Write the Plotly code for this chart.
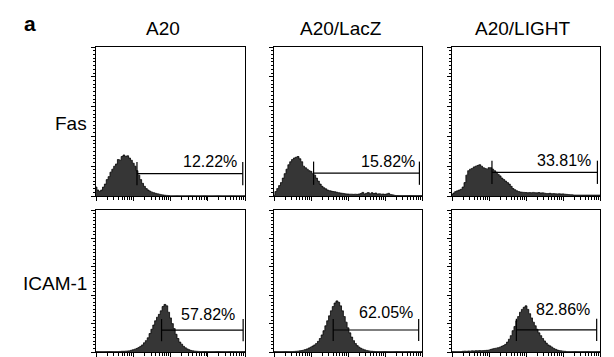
import plotly.graph_objects as go

# ---------------- data ----------------
col_titles = ["A20", "A20/LacZ", "A20/LIGHT"]
row_titles = ["Fas", "ICAM-1"]
bin_step = 0.05  # histogram bin width in log10 decades (fluorescence 10^0 .. 10^4)

fas_a20 = [6, 4, 3, 4, 6, 8, 11, 13, 16, 18, 20, 21.5, 24.5, 24, 26.5, 27.5, 26.5, 27, 25.5, 24,
           22, 20, 17, 14, 11, 8.5, 6.5, 5, 4, 3.2, 2.6, 2.2, 1.8, 1.5, 1.2, 0.9, 0.7, 0.5, 0.4, 0.3,
           0.2, 0.2, 0.2, 0.2, 0.2, 0.2, 0.2, 0.2, 0.2, 0.2, 0.2, 0.2, 0.2, 0.2, 0.2, 0.2, 0.2, 0.2, 0.2, 0.2,
           0.2, 0.2, 0.2, 0.2, 0.2, 0.2, 0.2, 0.2, 0.2, 0.2, 0.2, 0.2, 0.2, 0.2, 0.2, 0.2, 0.2, 0.2, 0.2, 0.2, 0.2]
fas_lacz = [0.5, 3, 5, 7, 9, 12, 15, 18, 21, 23, 24.5, 25.5, 26, 26.5, 25, 23, 20, 19, 18, 17,
            16.5, 15, 14, 12, 10, 8, 6.5, 5.5, 4.8, 4, 3.6, 3.3, 3, 2.8, 2.5, 2.2, 2, 1.8, 1.6, 1.4,
            1.3, 1.2, 1.2, 1.1, 1.2, 1.1, 1.3, 1.6, 2.4, 1.4, 1.8, 2.3, 1.5, 2.2, 1.6, 2.0, 1.3, 1.5, 1.2, 1.3,
            1.1, 1.4, 1.8, 1.0, 0.8, 0.5, 0.3, 0.3, 0.3, 0.3, 0.3, 0.3, 0.3, 0.3, 0.3, 0.3, 0.3, 0.3, 0.3, 0.3, 0.3]
fas_light = [1, 2, 3, 3.5, 4, 4.5, 6, 9, 14, 17, 18, 18.5, 19.5, 20, 20.5, 21, 20, 19, 18.5, 18,
             19, 19, 18, 17, 16, 14.5, 13.5, 12, 11, 10, 9, 8, 6.5, 5, 4.2, 3.5, 3, 2.7, 2.5, 2.4,
             2.3, 2.2, 2.3, 2.2, 2.4, 2.2, 2.1, 2.3, 2.0, 2.1, 1.9, 1.7, 1.6, 1.8, 1.5, 1.6, 1.5, 1.4, 1.5, 1.3,
             1.4, 1.2, 1.1, 1.0, 0.9, 0.8, 0.6, 0.6, 0.6, 0.6, 0.6, 0.6, 0.6, 0.6, 0.6, 0.6, 0.6, 0.6, 0.6, 0.6, 0.6]
icam_a20 = [0.3, 0.3, 0.3, 0.3, 0.3, 0.3, 0.3, 0.3, 0.3, 0.3, 0.3, 0.3, 0.3, 0.4, 0.5, 0.5, 0.6, 0.7, 0.8, 1.2,
            1.6, 2.0, 2.5, 3.2, 4, 5, 6.5, 8, 10, 13, 16, 19, 22, 24.5, 26.5, 29, 32, 33.5, 32.5, 28,
            24, 20, 16.5, 12.5, 9.5, 7, 5.5, 4, 3, 2.2, 1.6, 1.1, 0.8, 0.6, 0.5, 0.4, 0.3, 0.3, 0.3, 0.3,
            0.3, 0.3, 0.3, 0.3, 0.3, 0.3, 0.3, 0.3, 0.3, 0.3, 0.3, 0.3, 0.3, 0.3, 0.3, 0.3, 0.3, 0.3, 0.3, 0.3, 0.3]
icam_lacz = [0.3, 0.3, 0.3, 0.3, 0.3, 0.3, 0.3, 0.3, 0.3, 0.3, 0.3, 0.4, 0.5, 0.6, 0.8, 1.0, 1.3, 1.7, 2.2, 2.8,
             3.4, 4.2, 5, 6, 7.5, 9.5, 12, 15, 18.5, 22, 25.5, 29, 32, 34.5, 36, 35, 32.5, 29, 25, 21,
             17, 13.5, 10.5, 8, 6, 4.5, 3.4, 2.6, 2.0, 1.5, 1.1, 0.8, 0.6, 0.5, 0.4, 0.3, 0.3, 0.3, 0.3, 0.3,
             0.3, 0.3, 0.3, 0.3, 0.3, 0.3, 0.3, 0.3, 0.3, 0.3, 0.3, 0.3, 0.3, 0.3, 0.3, 0.3, 0.3, 0.3, 0.3, 0.3, 0.3]
icam_light = [0.3, 0.3, 0.3, 0.3, 0.3, 0.3, 0.5, 0.6, 0.5, 0.7, 0.6, 0.8, 0.7, 0.9, 0.8, 1.0, 0.9, 1.0, 1.1, 1.2,
              1.3, 1.8, 2.2, 2.5, 2.7, 3.0, 3.4, 4.0, 4.6, 5.4, 7, 9, 11.5, 15, 18, 22, 25, 28, 30, 31.5,
              32.5, 30, 27, 24, 21, 18.5, 16, 13.5, 11.5, 9.5, 7.8, 6.3, 5, 4.3, 3.4, 2.5, 1.9, 1.4, 1.0, 0.8,
              0.6, 0.5, 0.3, 0.3, 0.3, 0.3, 0.3, 0.3, 0.3, 0.3, 0.3, 0.3, 0.3, 0.3, 0.3, 0.3, 0.3, 0.3, 0.3, 0.3, 0.3]

histograms = [fas_a20, fas_lacz, fas_light, icam_a20, icam_lacz, icam_light]

# gate markers (decades start/end, height in % of y range)
gate_start = [1.1, 1.07, 1.08, 1.76, 1.6, 1.74]
gate_end = [3.94, 3.93, 3.93, 3.95, 3.91, 3.91]
gate_y = [15, 15.3, 15.9, 15.4, 15.5, 15.6]
gate_half = 7.8
pct_labels = ["12.22%", "15.82%", "33.81%", "57.82%", "62.05%", "82.86%"]
label_x = [3.84, 3.86, 3.8, 3.78, 3.8, 3.78]
label_y = [23, 23.3, 23.9, 26.5, 27.5, 29.6]

# ---------------- layout geometry ----------------
W, H = 614, 357
col_px = [(88, 237), (266, 414), (444, 592)]
row_px = [(39, 188), (202, 344)]
title_cx = [155, 333, 514]

fig = go.Figure()
font_family = "Liberation Sans, Arial, sans-serif"

for idx in range(6):
    r, c = divmod(idx, 3)
    n = idx + 1
    xa = "x" if n == 1 else f"x{n}"
    ya = "y" if n == 1 else f"y{n}"
    vals = histograms[idx]
    xs = [10 ** (i * bin_step) for i in range(len(vals))]
    fig.add_trace(go.Scatter(x=xs, y=vals, mode="lines", line=dict(color="black", width=0.8, shape="hvh"),
                             fill="tozeroy", fillcolor="#363636", xaxis=xa, yaxis=ya,
                             hoverinfo="skip", showlegend=False))
    a, b, gy = gate_start[idx], gate_end[idx], gate_y[idx]
    gx = [10 ** a, 10 ** a, None, 10 ** a, 10 ** b, None, 10 ** b, 10 ** b]
    gyv = [gy - gate_half, gy + gate_half, None, gy, gy, None, gy - gate_half, gy + gate_half]
    fig.add_trace(go.Scatter(x=gx, y=gyv, mode="lines", line=dict(color="black", width=1.2),
                             xaxis=xa, yaxis=ya, hoverinfo="skip", showlegend=False))
    fig.add_annotation(x=label_x[idx], y=label_y[idx], xref=xa, yref=ya, text=pct_labels[idx],
                       showarrow=False, xanchor="right", yanchor="middle",
                       font=dict(size=16, color="black", family=font_family))

    x0, x1 = col_px[c]
    y0, y1 = row_px[r]
    common = dict(showline=True, linecolor="black", linewidth=1, mirror=True, ticks="outside",
                  tickcolor="black", tickwidth=1, showticklabels=False, showgrid=False, zeroline=False)
    fig.layout[f"xaxis{'' if n == 1 else n}"] = dict(
        type="log", range=[0, 4], domain=[x0 / W, x1 / W], anchor=ya, dtick=1, ticklen=4,
        minor=dict(ticks="outside", ticklen=2.5, tickcolor="black", dtick="D1", showgrid=False), **common)
    fig.layout[f"yaxis{'' if n == 1 else n}"] = dict(
        range=[0, 100], domain=[1 - y1 / H, 1 - y0 / H], anchor=xa, dtick=20, ticklen=4,
        minor=dict(ticks="outside", ticklen=2.5, tickcolor="black", dtick=2.5, showgrid=False), **common)

# column titles
for c, t in enumerate(col_titles):
    fig.add_annotation(x=title_cx[c] / W, y=1 - 20 / H, xref="paper", yref="paper", text=t,
                       showarrow=False, xanchor="center", yanchor="middle",
                       font=dict(size=19, color="black", family=font_family))
# row titles
row_center = [116, 275]
for r, t in enumerate(row_titles):
    fig.add_annotation(x=81 / W, y=1 - row_center[r] / H, xref="paper", yref="paper", text=t,
                       showarrow=False, xanchor="right", yanchor="middle",
                       font=dict(size=19, color="black", family=font_family))
# panel letter
fig.add_annotation(x=22 / W, y=1 - 16 / H, xref="paper", yref="paper", text="<b>a</b>",
                   showarrow=False, xanchor="center", yanchor="middle",
                   font=dict(size=21, color="black", family=font_family))

fig.update_layout(width=W, height=H, margin=dict(l=0, r=0, t=0, b=0),
                  paper_bgcolor="white", plot_bgcolor="white")
fig.write_html("out.html")
